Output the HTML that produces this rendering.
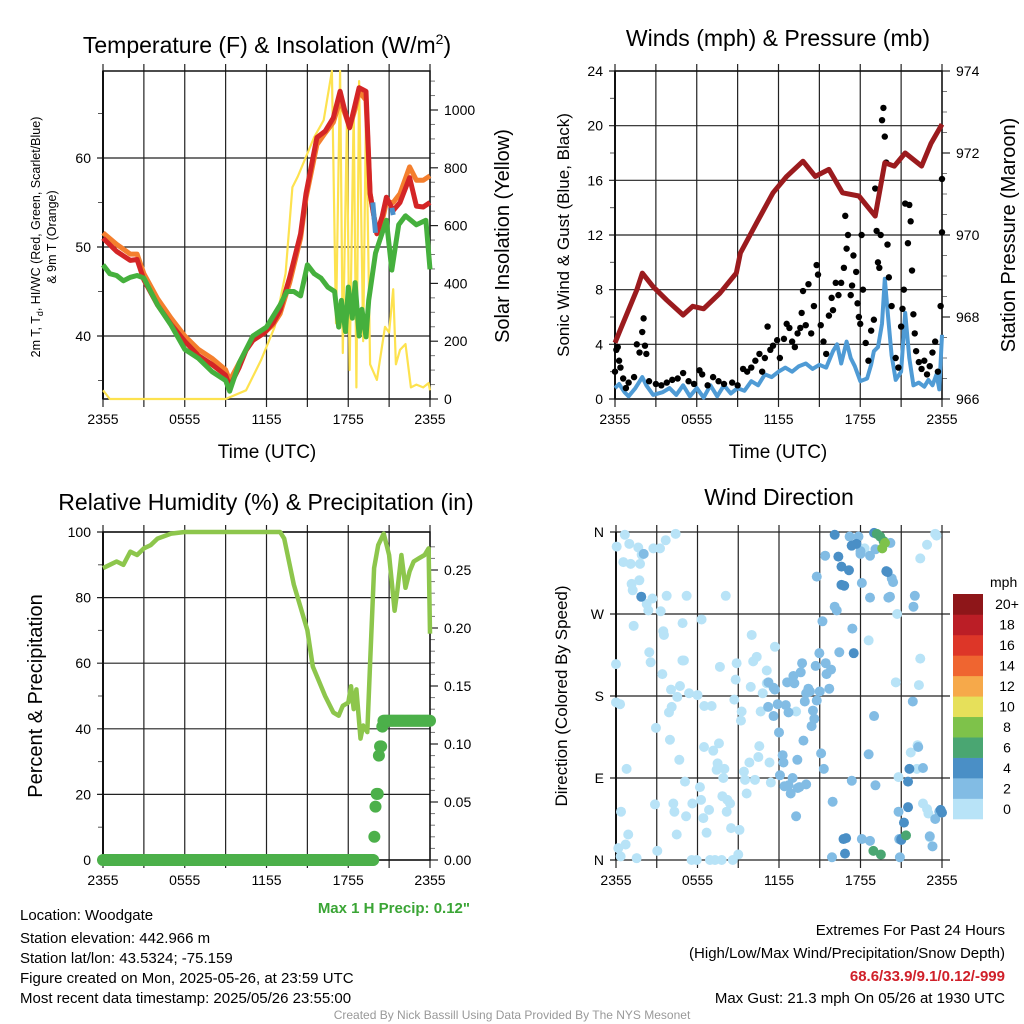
<!DOCTYPE html>
<html><head><meta charset="utf-8">
<style>
body{margin:0;background:#fff;}
svg{display:block;font-family:"Liberation Sans",Arial,sans-serif;}
</style></head>
<body>
<svg id="c" width="1024" height="1024" viewBox="0 0 1024 1024" xmlns="http://www.w3.org/2000/svg">
<rect width="1024" height="1024" fill="#fff"/>
<text x="267" y="53" font-size="23" text-anchor="middle">Temperature (F) &amp; Insolation (W/m<tspan font-size="14" dy="-9">2</tspan><tspan dy="9">)</tspan></text>
<text x="778" y="46" font-size="23" text-anchor="middle">Winds (mph) &amp; Pressure (mb)</text>
<text x="266" y="510" font-size="23" text-anchor="middle">Relative Humidity (%) &amp; Precipitation (in)</text>
<text x="779" y="505" font-size="23" text-anchor="middle">Wind Direction</text>

<text x="267" y="458" font-size="19" text-anchor="middle">Time (UTC)</text>
<text x="778" y="458" font-size="19" text-anchor="middle">Time (UTC)</text>

<text transform="translate(40,237) rotate(-90)" font-size="12.5" text-anchor="middle">2m T, T<tspan font-size="9" dy="3">d</tspan><tspan dy="-3">, HI/WC (Red, Green, Scarlet/Blue)</tspan></text>
<text transform="translate(56,237) rotate(-90)" font-size="12.5" text-anchor="middle">&amp; 9m T (Orange)</text>
<text transform="translate(509,236) rotate(-90)" font-size="20" text-anchor="middle">Solar Insolation (Yellow)</text>
<text transform="translate(569,235) rotate(-90)" font-size="17" text-anchor="middle">Sonic Wind &amp; Gust (Blue, Black)</text>
<text transform="translate(1015,235) rotate(-90)" font-size="20" text-anchor="middle">Station Pressure (Maroon)</text>
<text transform="translate(42,696) rotate(-90)" font-size="20" text-anchor="middle">Percent &amp; Precipitation</text>
<text transform="translate(567,696) rotate(-90)" font-size="17" text-anchor="middle">Direction (Colored By Speed)</text>

<g font-size="15">
<text x="20" y="920">Location: Woodgate</text>
<text x="20" y="943">Station elevation: 442.966 m</text>
<text x="20" y="963">Station lat/lon: 43.5324; -75.159</text>
<text x="20" y="983">Figure created on Mon, 2025-05-26, at 23:59 UTC</text>
<text x="20" y="1003">Most recent data timestamp: 2025/05/26 23:55:00</text>
</g>
<text x="470" y="913" font-size="15" font-weight="bold" fill="#3aa535" text-anchor="end">Max 1 H Precip: 0.12"</text>
<g font-size="15" text-anchor="end">
<text x="1005" y="935">Extremes For Past 24 Hours</text>
<text x="1005" y="958">(High/Low/Max Wind/Precipitation/Snow Depth)</text>
<text x="1005" y="981" fill="#d0202a" font-weight="bold">68.6/33.9/9.1/0.12/-999</text>
<text x="1005" y="1003">Max Gust: 21.3 mph On 05/26 at 1930 UTC</text>
</g>
<text x="512" y="1019" font-size="12" fill="#999" text-anchor="middle">Created By Nick Bassill Using Data Provided By The NYS Mesonet</text>
</svg>
<script>
// ---------- data ----------
const xTickLabels = ["2355","0555","1155","1755","2355"];
const tempHours = [0,1,2,2.5,3,4,5,6,7,8,9,9.3,10,10.5,11,11.8,12.5,13,13.7,14.5,14.9,15.7,16.3,16.9,17.4,17.8,18.1,18.5,18.8,19.3,19.6,20.1,20.5,20.8,21.3,21.8,22.5,23,23.5,24];
const tempVals  = [51,49.5,48.5,48.6,46.3,43.5,41.3,39.4,37.8,36.8,35.6,34.3,36.5,38.4,39.5,40.3,41.5,42.9,46.6,51.5,56,62.3,63,64.5,67.5,65,63.4,66,67.9,67.5,56,51.5,53.5,55.6,54.1,55,57.8,54.6,54.5,55];
const nineMVals = [51.6,50.3,49.2,49.2,47,44.2,42,40,38.5,37.5,36.2,35,37,38.4,39.6,40.3,41.3,42.5,46,51,55.5,61.5,62.8,64,66.5,64.8,63.4,65.5,67.5,66.5,56,51.5,53,55,55,56,59,57.5,57.5,58];
const dewHours = [0,0.5,1,1.5,2,2.5,3,4,5,6,7,8,9,9.3,10,11,12,13,13.5,14,14.5,15,15.5,16,16.5,17,17.3,17.5,17.8,18,18.3,18.5,18.8,19,19.3,19.5,20,20.8,21.2,21.7,22.2,23,23.7,24];
const dewVals  = [48,47,46.8,46.2,46.6,46.8,46.5,43.5,41.2,38.5,37.5,36,35,33.8,37,40,41,43.5,45,45,44.5,48,47,46.5,45.5,45,41,44,40.5,45.5,42,46,40,43,39.9,44,49.3,53,47.4,52.5,53.5,52.5,53,47.5];
const hiHours = [19.8,19.9,20.0, 21.2,21.3];
const hiVals  = [55,53.3,51.6, 54.4,53.6];
const solarHours = [0,0.5,9,9.5,10.5,11.6,12.6,13.4,13.9,14.3,15.5,16.2,16.8,17.1,17.4,17.6,17.9,18.1,18.4,18.6,18.8,19.1,19.3,19.6,20.1,20.7,21.0,21.3,21.5,21.8,22.2,22.6,23,23.5,23.9,24];
const solarVals  = [30,0,0,10,30,135,250,435,733,770,906,965,1135,262,1135,159,950,100,1000,40,1100,200,1000,120,66,250,230,380,120,170,190,40,50,40,55,30];

const pressHours = [0,0.4,1.6,2.0,2.8,3.8,5.0,5.7,6.5,7.7,8.9,9.2,10.4,11.6,12.6,13.8,14.7,15.7,16.7,17.9,19.1,19.8,20.5,21.3,22.5,23.2,24];
const pressVals  = [967.37,967.7,968.66,969.07,968.74,968.41,968.05,968.26,968.2,968.58,969.07,969.56,970.3,971.03,971.43,971.8,971.43,971.6,971.03,970.95,970.46,971.76,971.68,972.0,971.68,972.24,972.7];
const windHours = [0,0.3,0.7,1,1.5,2,2.3,2.8,3.5,4,4.5,5,5.5,6,6.5,7,7.5,8,8.5,9,9.5,10,10.5,11,11.5,12,12.5,13,13.5,14,14.5,15,15.5,16,16.3,16.6,17,17.3,17.6,18,18.5,18.8,19,19.3,19.6,19.8,20,20.3,20.6,21,21.3,21.6,21.9,22.3,22.7,23,23.3,23.6,23.8,24];
const windVals  = [0.8,1.1,0.5,0.2,0.8,1.6,1,0.3,0.5,0.8,0.3,1,0.2,0.8,0.1,1,0.2,1,0.4,0.8,0.6,1.3,1,1.8,1.6,2,2.3,2,2.4,2.6,2.2,2.5,2.3,3.5,4,2.6,4.2,3,2.4,1.3,1.5,2.5,3.5,3.8,5.5,8.8,6.5,3.2,1.4,2,6.3,3,1,1.2,0.9,1.4,1,1.8,0.7,4.7];
const gustHours = [0,0.1,0.2,0.3,0.4,0.6,0.8,1,1.4,1.6,1.8,2,2.1,2.2,2.3,2.5,3,3.4,3.8,4.2,4.6,5,5.4,5.8,6.2,6.4,6.8,7.2,7.6,8,8.6,9,9.4,9.7,10,10.3,10.6,10.8,11,11.2,11.4,11.6,11.9,12.1,12.4,12.6,12.8,13,13.2,13.4,13.6,13.7,13.8,14,14.2,14.4,14.6,14.8,14.9,15.1,15.3,15.5,15.7,15.9,16,16.2,16.4,16.6,16.8,16.9,17,17.1,17.3,17.4,17.5,17.7,17.8,17.9,18,18.1,18.2,18.4,18.6,18.8,19,19.1,19.2,19.3,19.4,19.5,19.6,19.7,19.8,19.9,20,20.1,20.3,20.6,20.8,21,21.1,21.2,21.3,21.5,21.6,21.7,21.8,21.9,22,22.1,22.3,22.5,22.7,22.9,23.1,23.3,23.5,23.7,23.9,24,24];
const gustVals  = [2,3.6,3.8,2.8,2.3,1.5,0.8,1.2,1.6,4,3.4,4.9,5.9,3.9,3.3,1.3,1.1,1,1.2,1.4,1.5,1.9,1.3,1.1,2.1,1.8,1,1.6,1.3,1.1,1.2,1,2.2,2,2.3,2.8,3.3,2,3,5.3,3.6,3.9,4.3,3,4.4,5.5,5.2,4.2,3.8,4.8,5.2,6.3,7.9,5.4,8.4,4.8,6.8,9.8,9.1,5.4,4.2,3.3,6.1,7.4,6.5,8.5,7.6,8.5,9.6,13.4,11,12,7.6,8.3,10.5,9.3,7,6,5.5,12,8,4.1,2.8,5,5.8,15.4,12.3,10,9.6,12,20.4,21.3,19.2,17.3,11.3,8.9,6.8,3,2.3,5.3,6.6,8,14.3,11.4,14.2,13,9.4,6.2,4.8,3.5,2.7,2.2,2.8,1.8,2.4,3.4,4.2,2,6.8,16.1,12.2];

const rhHours = [0,0.5,1,1.5,2,2.5,3,3.5,4,5,6,7,8,9,10,11,12,13,13.3,13.6,14,14.5,15,15.4,15.8,16.3,16.9,17.3,17.6,18,18.2,18.4,18.6,18.9,19.1,19.4,19.6,19.9,20.2,20.6,21,21.4,21.6,21.9,22.2,22.5,22.8,23.2,23.6,23.9,24];
const rhVals  = [89,90,91,90,94,93,95,96,98,99.5,100,100,100,100,100,100,100,100,98,92,84,77,70,59,55,50,45,44,47,48,53,46,52,37,41,39,60,89,96,99.5,93,76,82,93,83,88,91,92,93,95,69];
const precipStepHours = [0,19.85,19.93,20.0,20.08,20.17,20.25,20.33,20.42,20.5,20.58];
const precipStepVals  = [0,0.02,0.027,0.046,0.057,0.072,0.09,0.098,0.103,0.115,0.12];

const dirHours = [0.05,0.65,0.98,0.54,1.08,1.64,1.89,1.77,1.15,1.23,1.72,2.68,2.26,2.38,3.73,5.2,8.08,2.75,3.24,3.66,4.39,1.3,3.29,3.48,3.53,4.9,6.3,2.45,2.55,0,3.41,4.05,4.71,4.89,5.0,0,0.3,4.51,5.38,6.0,4.1,3.9,2.94,3.97,4.66,0.78,5.08,2.87,0.37,0.9,0.71,0.17,0.34,1.52,3.04,4.22,4.3,5.16,4.47,5.62,6.26,6.18,6.43,6.85,6.67,6.48,7.16,7.58,7.48,7.41,7.98,7.9,7.83,8.2,8.4,8.15,8.47,9.09,9.0,5.57,5.94,6.92,7.29,7.78,8.6,6.5,7.04,7.65,8.81,8.71,8.88,9.25,9.2,9.42,9.5,9.62,10.23,9.82,10.48,10.55,9.92,10.1,10.36,9.99,10.65,10.8,11.1,11.3,11.4,11.7,13.26,18.6,18.3,20.7,20.6,22.4,22.3,22.9,22.4,23.5,23.6,22.2,21.7,22.15,20.8,22.6,22.9,23.0,23.1,
 11.1,11.22,11.6,11.7,11.2,11.6,11.9,12.0,12.5,12.7,12.6,13.06,13.13,13.7,13.6,14.16,14.28,14.0,13.9,14.5,14.6,14.4,14.78,14.7,14.97,15.0,15.44,15.5,15.7,15.83,12.27,12.33,12.07,12.4,12.7,13.0,12.86,13.38,13.5,14.0,13.35,13.8,13.26,15.1,15.3,15.2,14.78,15.4,16.1,16.25,16.44,17.4,15.95,17.36,15.9,18.1,18.7,18.6,19.0,19.1,18.1,18.7,18.7,19.1,17.2,18.0,18.0,17.85,20.2,20.3,20.4,20.05,20.17,22.0,21.9,21.85,22.25,22.6,23.1,23.3,23.5,23.8,23.9,20.8,20.85,20.9,
 2.04,1.86,16.1,16.37,16.6,17.15,16.6,16.8,17.35,17.7,17.5,16.75,16.94,16.86,19.9,20.0,21.6,21.5,21.5,21.2,21.0,21.0,23.9,24.0,
 19.0,19.2,19.45,21.35,18.95,19.5,19.7,19.8,19.6];
const dirVals = [344,357,347,327,325,343,335,325,303,296,307,287,281,274,290,290,290,342,342,351,358,257,273,251,247,260,264,228,217,215,204,187,191,219,219,173,171,179,183,181,168,162,145,132,110,100,86,61,53,28,17,13,4,2,10,62,53,48,28,62,66,80,46,55,30,124,120,128,106,99,100,90,70,66,62,53,35,33,6,0,0,0,0,0,0,169,169,212,198,176,216,163,153,97,88,73,88,107,113,125,190,218,223,247,163,183,208,107,85,234,163,241,342,270,195,221,192,346,331,358,356,126,118,100,91,62,56,51,25,
 194,195,189,187,168,158,171,140,170,162,195,202,194,216,206,188,185,183,174,164,155,147,175,213,227,185,216,204,188,209,115,107,93,81,82,90,73,79,80,83,110,131,48,117,100,262,311,334,278,274,228,254,64,87,3,23,21,116,158,82,304,288,334,341,355,336,339,355,348,309,305,288,289,290,278,174,124,101,26,15,45,53,52,53,23,3,
 336,289,357,333,322,318,302,301,345,347,227,23,24,7,317,316,100,86,58,41,22,23,55,52,
 359,358,355,27,10,6,350,348,342];
const dirSpeeds = [
 1,1,1,1,1,1,1,1,1,1,1,1,1,1,1,1,1,1,1,1,1,1,1,1,1,1,1,1,1,1,1,1,1,1,1,1,1,1,1,1,1,1,1,1,1,1,1,1,1,1,1,1,1,1,1,1,1,1,1,1,1,1,1,1,1,1,1,1,1,1,1,1,1,1,1,1,1,1,1,1,1,1,1,1,1,1,1,1,1,1,1,1,1,1,1,1,1,1,1,1,1,1,1,1,1,1,1,1,1,1,1,1,1,1,1,1,1,1,1,1,1,1,1,1,1,1,1,1,1,1,
 3,3,3,3,3,3,3,3,3,3,3,3,3,3,3,3,3,3,3,3,3,3,3,3,3,3,3,3,3,3,3,3,3,3,3,3,3,3,3,3,3,3,3,3,3,3,3,3,3,3,3,3,3,3,3,3,3,3,3,3,3,3,3,3,3,3,3,3,3,3,3,3,3,3,3,3,3,3,3,3,3,3,3,3,3,3,
 5,5,5,5,5,5,5,5,5,5,5,5,5,5,5,5,5,5,5,5,5,5,5,5,
 7,7,7,7,7,7,9,9,9];
const speedBinLabels = ["0","2","4","6","8","10","12","14","16","18","20+"];
const speedBinColors = ["#b8e3f7","#82bce4","#4a8fc6","#4aa672","#7ec24a","#e6e05a","#f6a94a","#ef6530","#dd3628","#bb1e26","#8e1619"];

// ---------- drawing ----------
const svg = document.getElementById('c');
const NS = "http://www.w3.org/2000/svg";
function mk(tag, attrs, parent){ const e=document.createElementNS(NS,tag); for(const k in attrs) e.setAttribute(k,attrs[k]); (parent||svg).appendChild(e); return e; }
function lin(d0,d1,r0,r1){ return v => r0 + (v-d0)/(d1-d0)*(r1-r0); }

function panelFrame(x0,x1,y0,y1,name,leftTicks,leftScale,leftLabels,rightTicks,rightScale,rightLabels,rightMinor,leftMinor,hGridExt){
  const g = mk('g',{});
  
  
  const xs = lin(0,24,x0,x1);
  for(let h=0; h<=24; h+=3){
    const x = xs(h);
    mk('line',{x1:x,x2:x,y1:y0-7,y2:y1+8,stroke:'#222','stroke-width':1.2},g);
  }
  xTickLabels.forEach((t,i)=>{
    const tx = mk('text',{x:xs(i*6),y:y1+25,'font-size':14,'text-anchor':'middle'},g);
    tx.textContent=t;
    
    
  });
  leftTicks.forEach((v,i)=>{
    const y = leftScale(v);
    mk('line',{x1:x0-6,x2:x1+(hGridExt||0),y1:y,y2:y,stroke:'#222','stroke-width':1.2},g);
    const tx = mk('text',{x:x0-12,y:y+5,'font-size':14,'text-anchor':'end'},g);
    tx.textContent = leftLabels[i];
    
    
  });
  (leftMinor||[]).forEach(v=>{ const y=leftScale(v); mk('line',{x1:x0-5,x2:x0,y1:y,y2:y,stroke:'#555','stroke-width':1},g); });
  if(rightTicks){
    rightTicks.forEach((v,i)=>{
      const y=rightScale(v);
      mk('line',{x1:x1,x2:x1+8,y1:y,y2:y,stroke:'#222','stroke-width':1.2},g);
      const tx = mk('text',{x:x1+14,y:y+5,'font-size':14},g);
      tx.textContent = rightLabels[i];
      
      
    });
    (rightMinor||[]).forEach(v=>{ const y=rightScale(v); mk('line',{x1:x1,x2:x1+5,y1:y,y2:y,stroke:'#777','stroke-width':1},g); });
  }
  mk('rect',{x:x0,y:y0,width:x1-x0,height:y1-y0,fill:'none',stroke:'#111','stroke-width':1.5},g);
  mk('line',{x1:x0,x2:x0,y1:y0,y2:y1,stroke:'#111','stroke-width':2},g);
  return xs;
}
function pathD(hs,vs,xs,ys){ return hs.map((h,i)=>(i?'L':'M')+xs(h).toFixed(1)+','+ys(vs[i]).toFixed(1)).join(''); }

// Panel 1
{
  const x0=103,x1=430,y0=71,y1=399;
  const yT = lin(40,60,336,158);
  const yS = lin(0,1000,399,110);
  const xs = panelFrame(x0,x1,y0,y1,'temperature',[40,50,60],yT,['40','50','60'],[0,200,400,600,800,1000],yS,['0','200','400','600','800','1000'],[50,100,150,250,300,350,450,500,550,650,700,750,850,900,950,1050,1100],[35,45,55,65]);
  let p;
  p=mk('path',{d:pathD(solarHours,solarVals,xs,yS),fill:'none',stroke:'#fde24f','stroke-width':2.2,'stroke-linejoin':'round'});
   
  p=mk('path',{d:pathD(tempHours,nineMVals,xs,yT),fill:'none',stroke:'#f47f2e','stroke-width':5,'stroke-linejoin':'round'});
   
  p=mk('path',{d:pathD(tempHours,tempVals,xs,yT),fill:'none',stroke:'#d42526','stroke-width':5,'stroke-linejoin':'round'});
   
  p=mk('path',{d:pathD(dewHours,dewVals,xs,yT),fill:'none',stroke:'#45b03d','stroke-width':5,'stroke-linejoin':'round'});
   
  p=mk('path',{d:pathD(hiHours.slice(0,3),hiVals.slice(0,3),xs,yT)+pathD(hiHours.slice(3),hiVals.slice(3),xs,yT),fill:'none',stroke:'#4b8fca','stroke-width':5});
   
}
// Panel 2
{
  const x0=615,x1=942,y0=71,y1=399;
  const yW = lin(0,24,399,71);
  const yP = lin(966,974,399,71);
  const xs = panelFrame(x0,x1,y0,y1,'wind',[0,4,8,12,16,20,24],yW,['0','4','8','12','16','20','24'],[966,968,970,972,974],yP,['966','968','970','972','974'],[966.5,967,967.5,968.5,969,969.5,970.5,971,971.5,972.5,973,973.5],[2,6,10,14,18,22]);
  let p=mk('path',{d:pathD(windHours,windVals,xs,yW),fill:'none',stroke:'#4f9bd5','stroke-width':4,'stroke-linejoin':'round'});
   
  gustHours.forEach((h,i)=>{
    const c=mk('circle',{cx:xs(h),cy:yW(gustVals[i]),r:3.2,fill:'#000'});
    
    
  });
  p=mk('path',{d:pathD(pressHours,pressVals,xs,yP),fill:'none',stroke:'#9b1b1e','stroke-width':5,'stroke-linejoin':'round'});
   
}
// Panel 3
{
  const x0=103,x1=430,y0=532,y1=860;
  const yR = lin(0,100,860,532);
  const yPr = lin(0,0.25,860,570);
  const xs = panelFrame(x0,x1,y0,y1,'humidity',[0,20,40,60,80,100],yR,['0','20','40','60','80','100'],[0,0.05,0.1,0.15,0.2,0.25],yPr,['0.00','0.05','0.10','0.15','0.20','0.25'],[0.01,0.02,0.03,0.04,0.06,0.07,0.08,0.09,0.11,0.12,0.13,0.14,0.16,0.17,0.18,0.19,0.21,0.22,0.23,0.24,0.26,0.27],[10,30,50,70,90]);
  let p=mk('path',{d:pathD(rhHours,rhVals,xs,yR),fill:'none',stroke:'#8dc64c','stroke-width':4.5,'stroke-linejoin':'round'});
   
  for(let k=0;k<=288;k++){
    const h=k/12; let v=0;
    for(let j=0;j<precipStepHours.length;j++){ if(h>=precipStepHours[j]-1e-6) v=precipStepVals[j]; }
    const c=mk('circle',{cx:xs(h),cy:yPr(v),r:6,fill:'#4cb04a'});
    
    
  }
}
// Panel 4
{
  const x0=616,x1=942,y0=532,y1=860;
  const yD = lin(0,360,860,532);
  const xs = panelFrame(x0,x1,y0,y1,'direction',[0,90,180,270,360],yD,['N','E','S','W','N'],null,null,null,null,null,8);
  svg.lastChild.querySelector('rect').setAttribute('stroke','none');
  dirHours.forEach((h,i)=>{
    const bin=Math.min(10,Math.floor(dirSpeeds[i]/2));
    const c=mk('circle',{cx:xs(h),cy:yD(dirVals[i]),r:5,fill:speedBinColors[bin]});
    
    
  });
  const lg=mk('g',{});
  
  
  const t=mk('text',{x:990,y:587,'font-size':14},lg); t.textContent='mph';
  const bh=(819-594)/11;
  speedBinLabels.forEach((lab,i)=>{
    const yy=819-(i+1)*bh;
    const r=mk('rect',{x:953,y:yy,width:30,height:bh+0.3,fill:speedBinColors[i]},lg);
    
    
    const tx=mk('text',{x:1007,y:yy+bh/2+5,'font-size':14,'text-anchor':'middle'},lg);
    tx.textContent=lab;
  });
}
</script>
</body></html>
